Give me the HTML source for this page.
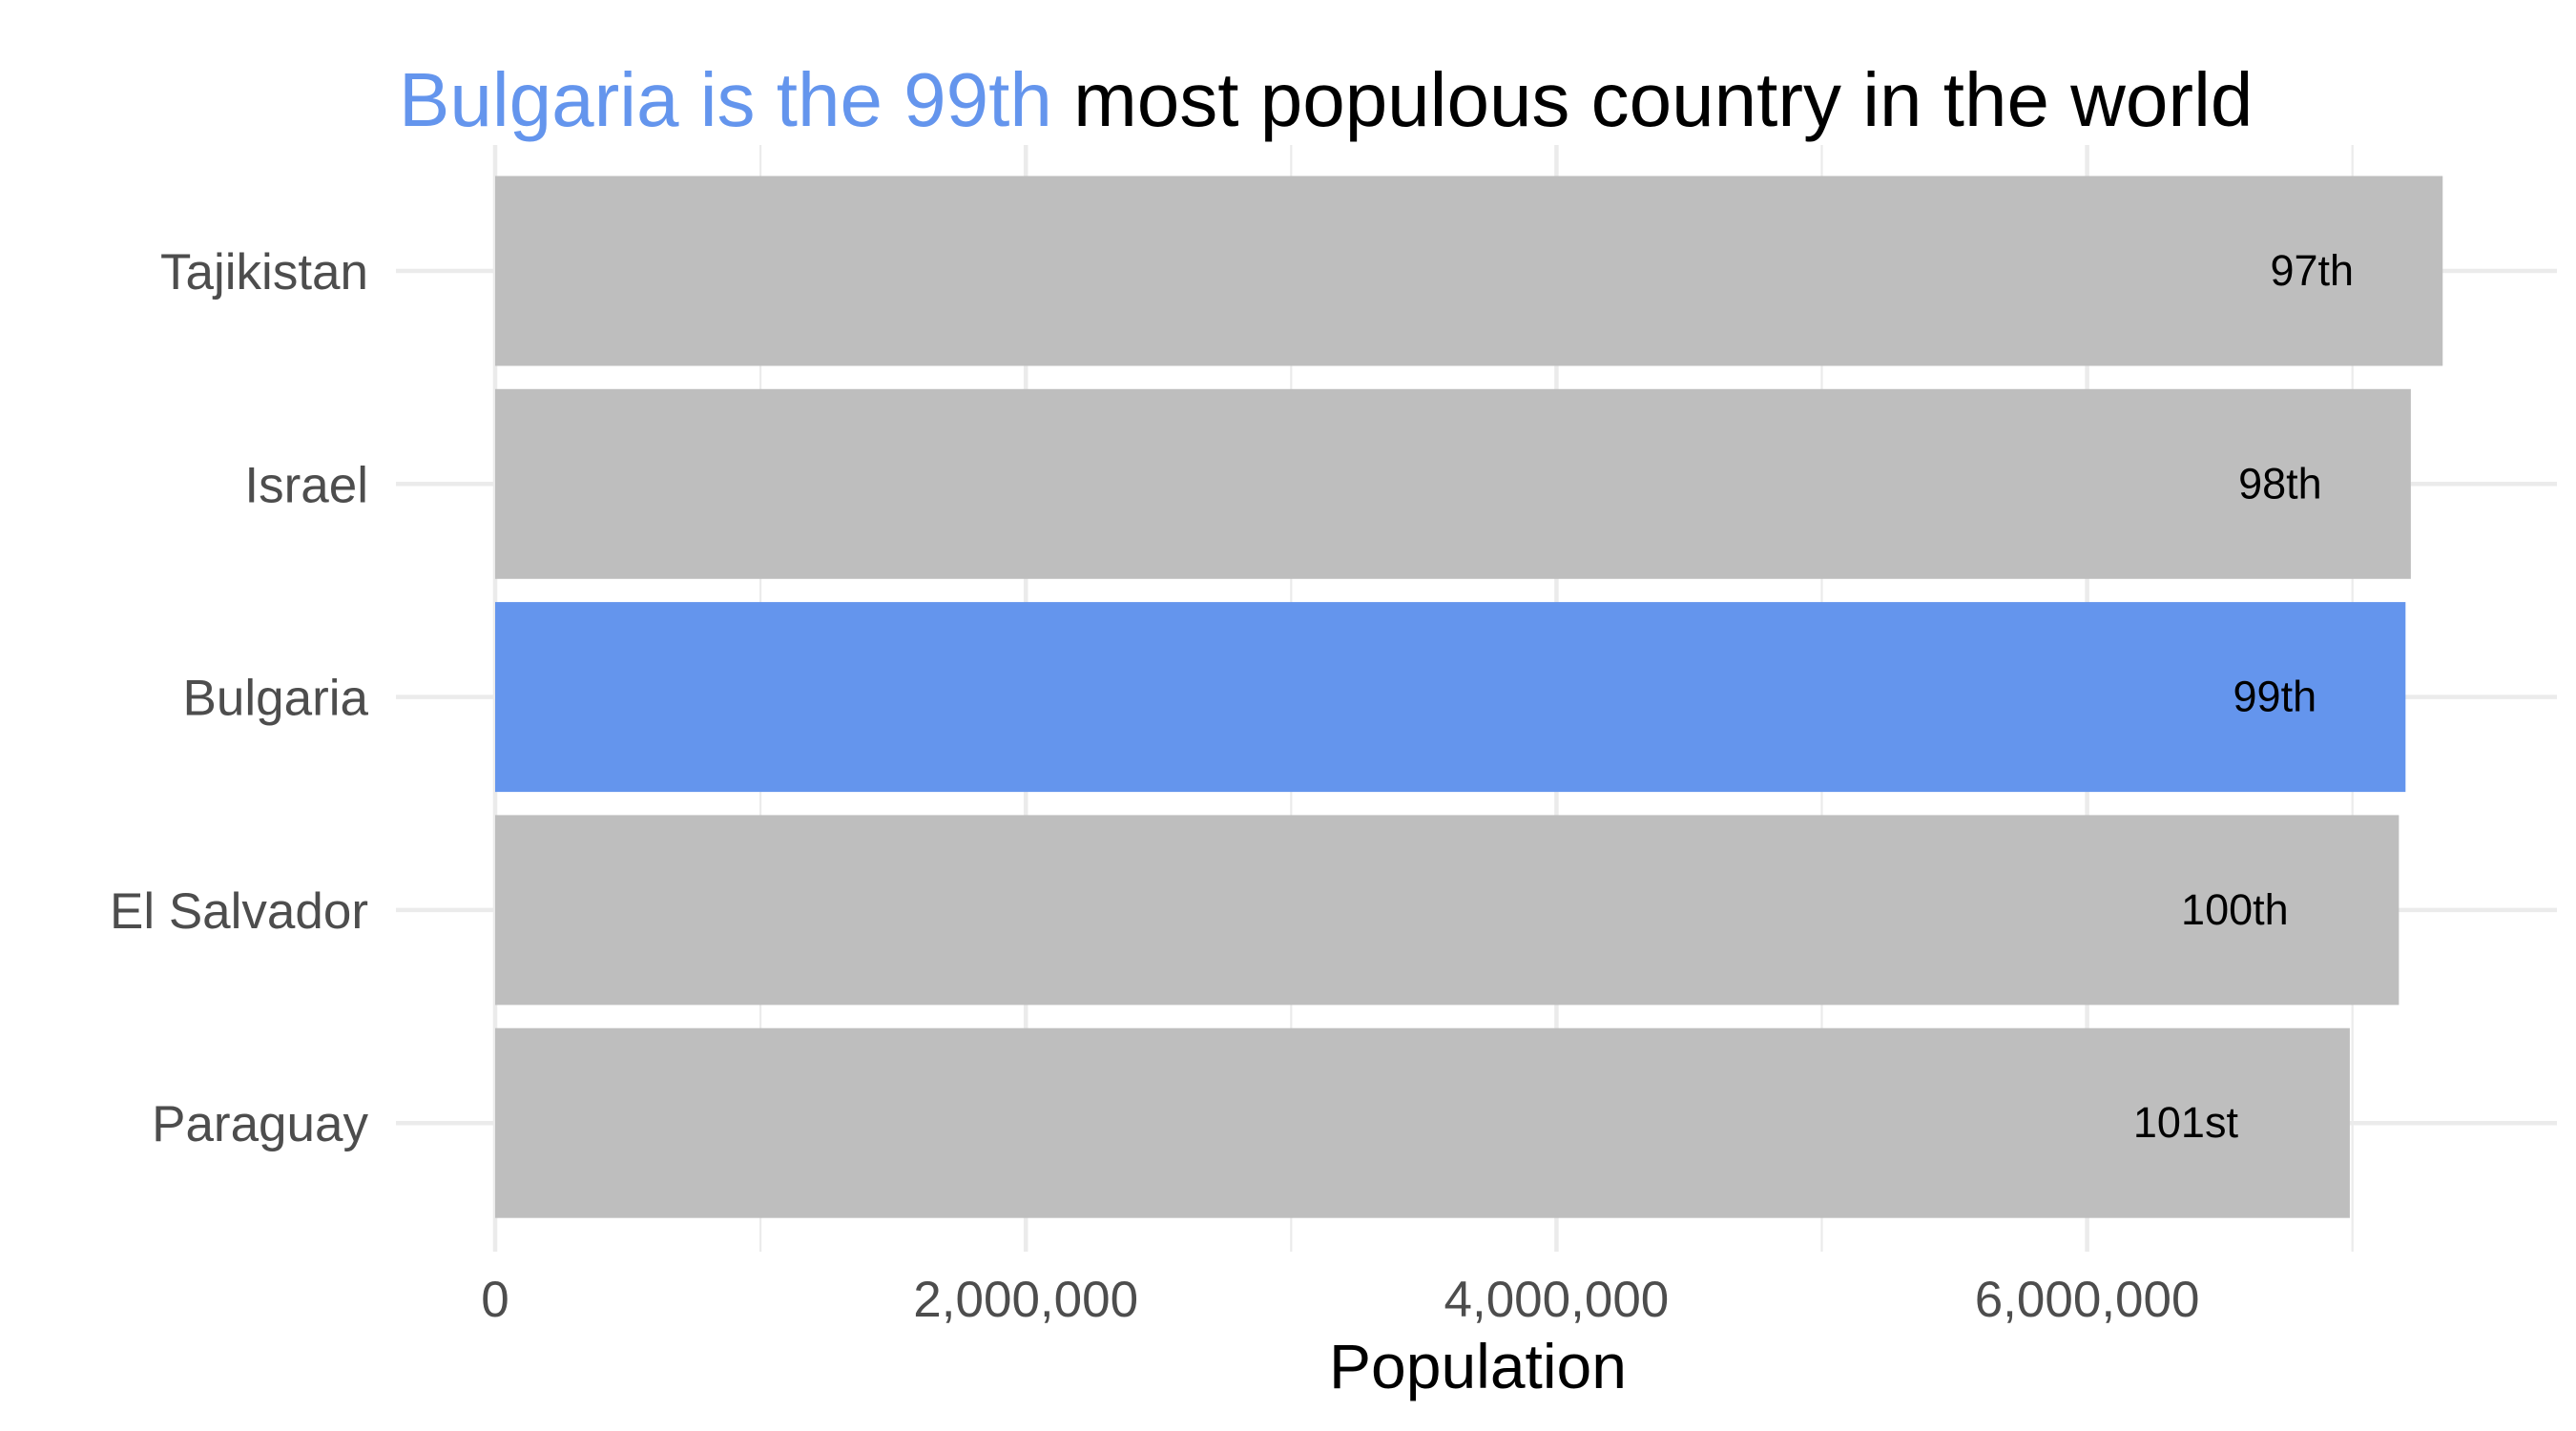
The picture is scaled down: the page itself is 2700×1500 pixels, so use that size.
<!DOCTYPE html>
<html><head><meta charset="utf-8"><style>
html,body{margin:0;padding:0;background:#fff;}
svg{display:block;font-family:"Liberation Sans",Arial,sans-serif;}
</style></head><body>
<svg id="chart" width="2700" height="1500" viewBox="0 0 2700 1500" xmlns="http://www.w3.org/2000/svg">
<rect width="2700" height="1500" fill="#fff"/>
<text x="418" y="132" font-size="80"><tspan fill="#6495ED">Bulgaria is the 99th</tspan><tspan fill="#000"> most populous country in the world</tspan></text>
<g id="grid"></g>
<g id="bars"></g>
<g id="labels"></g>
<g id="yaxis"></g>
<g id="xaxis"></g>
<text x="1549" y="1455" font-size="66" text-anchor="middle" fill="#000">Population</text>
</svg>
<script>
const countries = ["Tajikistan","Israel","Bulgaria","El Salvador","Paraguay"];
const populations = [7340000,7220000,7200000,7175000,6990000];
const rankLabels = ["97th","98th","99th","100th","101st"];
const highlight = "Bulgaria";
const xTicks = [0,2000000,4000000,6000000];
const xTickLabels = ["0","2,000,000","4,000,000","6,000,000"];

const NS="http://www.w3.org/2000/svg";
const x0=519, pxPerUnit=278.1/1e6;
const panelL=415, panelR=2680, panelT=152, panelB=1312;
const firstCenter=284, step=223.3, barH=199;
function xs(v){return x0+v*pxPerUnit;}
function ys(i){return firstCenter+i*step;}
function mk(tag,attrs,parent){const e=document.createElementNS(NS,tag);for(const k in attrs)e.setAttribute(k,attrs[k]);parent.appendChild(e);return e;}

const grid=document.getElementById('grid');
for(let v=0; xs(v)<=panelR; v+=1000000){
  const l=mk('line',{x1:xs(v),x2:xs(v),y1:panelT,y2:panelB,stroke:'#ebebeb','stroke-width':v%2000000===0?4.5:2.2},grid);
  
  
}
countries.forEach((c,i)=>{
  const l=mk('line',{x1:panelL,x2:panelR,y1:ys(i),y2:ys(i),stroke:'#ebebeb','stroke-width':4.5},grid);
  
  
});
const bars=document.getElementById('bars'), labels=document.getElementById('labels'), yaxis=document.getElementById('yaxis');
countries.forEach((c,i)=>{
  const r=mk('rect',{x:xs(0),y:ys(i)-barH/2,width:xs(populations[i])-xs(0),height:barH,fill:c===highlight?'#6495ED':'#bebebe'},bars);
  
  
  const off=137+35*(rankLabels[i].length-4);
  const t=mk('text',{x:xs(populations[i])-off,y:ys(i)+15,'font-size':45,'text-anchor':'middle',fill:'#000'},labels);
  t.textContent=rankLabels[i];
  
  
  const yl=mk('text',{x:386,y:ys(i)+19,'font-size':53,'text-anchor':'end',fill:'#4d4d4d'},yaxis);
  yl.textContent=c;
  
  
});
const xaxis=document.getElementById('xaxis');
xTicks.forEach((v,i)=>{
  const t=mk('text',{x:xs(v),y:1380,'font-size':53,'text-anchor':'middle',fill:'#4d4d4d'},xaxis);
  t.textContent=xTickLabels[i];
  
  
});
</script>
</body></html>
